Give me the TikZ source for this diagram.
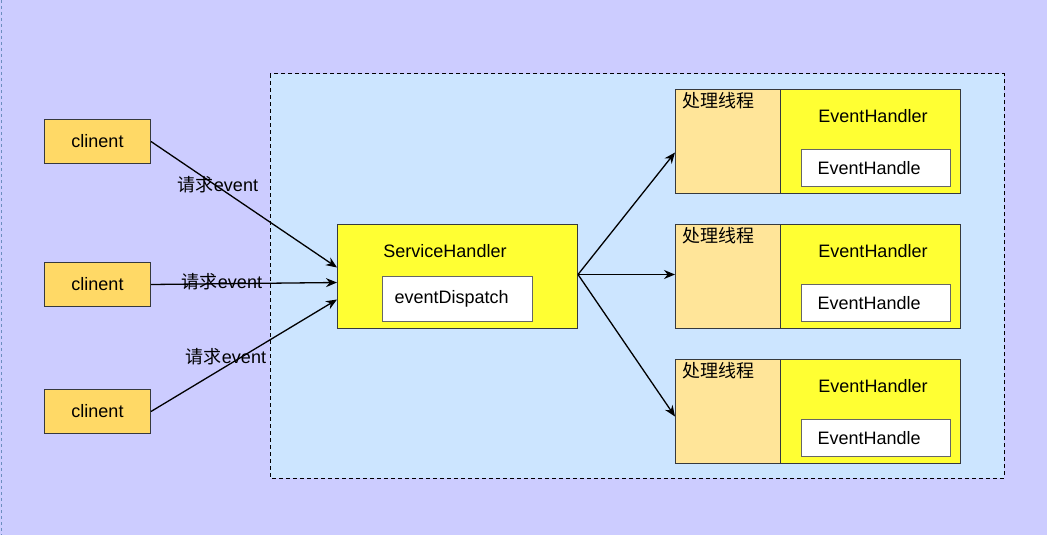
\documentclass[tikz,border=0pt]{standalone}
\usepackage{fontspec}
\setmainfont{Liberation Sans}
\newfontfamily\cjk{Noto Sans CJK SC}
\usetikzlibrary{arrows.meta}
\definecolor{bgpurple}{HTML}{CCCCFF}
\definecolor{bgblue}{HTML}{CCE5FF}
\definecolor{clientfill}{HTML}{FFD966}
\definecolor{handlerfill}{HTML}{FFFF33}
\definecolor{threadfill}{HTML}{FFE599}
\definecolor{boxline}{HTML}{36393D}
\definecolor{edgeblue}{HTML}{6C8EBF}
\tikzset{
  box/.style={draw=boxline, line width=1pt, anchor=north west, inner sep=0pt},
  clientbox/.style={box, fill=clientfill, minimum width=106pt, minimum height=44pt},
  whitebox/.style={box, draw=gray!80!black, fill=white, align=left},
  txt/.style={font=\fontsize{18}{21}\selectfont, inner sep=0pt},
  arrow/.style={-{Stealth[length=11pt,width=9pt]}, line width=1.3pt}
}
\begin{document}
\begin{tikzpicture}[x=1pt, y=-1pt]
  \useasboundingbox (0,0) rectangle (1047,535);
  \fill [bgpurple] (0,0) rectangle (1047,535);
  \draw [edgeblue, dashed, line width=1pt] (1,0) -- (1,535);
  \draw [fill=bgblue, line width=1pt, dash pattern=on 4pt off 3pt] (270,74) rectangle (1004,478);
  % clients
  \node [clientbox, txt] (client1) at (44,119) {clinent};
  \node [clientbox, txt] (client2) at (44,262) {clinent};
  \node [clientbox, txt] (client3) at (44,389) {clinent};
  % service handler
  \node [box, fill=handlerfill, minimum width=240pt, minimum height=104pt] (service) at (337,224) {};
  \node [txt] (servicetext) at (445,251) {ServiceHandler};
  \node [whitebox, txt, inner xsep=12pt, text width=126pt, minimum height=45pt] (dispatch) at (382,276) {eventDispatch};
  % threads with handlers
  \foreach \i/\y in {1/89, 2/224, 3/359} {
    \node [box, fill=threadfill, minimum width=105pt, minimum height=104pt] (thread\i) at (675,\y) {};
    \node [box, fill=handlerfill, minimum width=180pt, minimum height=104pt] (handler\i) at (780,\y) {};
    \node [txt, anchor=north west] (threadtext\i) at (682,\y+3) {\cjk 处理线程};
    \node [txt] (handlertext\i) at (873,\y+27) {EventHandler};
    \node [whitebox, txt, inner xsep=16pt, text width=117pt, minimum height=37pt] (handle\i) at (801,\y+60) {EventHandle};
  }
  % requests
  \draw [arrow] (client1.east) -- ([yshift=9pt]service.west);
  \draw [arrow] (client2.east) -- ([yshift=-6pt]service.west);
  \draw [arrow] (client3.east) -- ([yshift=-23pt]service.west);
  \node [txt] (req1) at (218,185) {{\cjk 请求}event};
  \node [txt] (req2) at (222,282) {{\cjk 请求}event};
  \node [txt] (req3) at (226,357) {{\cjk 请求}event};
  % dispatch
  \draw [arrow] ([yshift=2pt]service.east) -- ([yshift=-11pt]thread1.west);
  \draw [arrow] ([yshift=2pt]service.east) -- ([yshift=2pt]thread2.west);
  \draw [arrow] ([yshift=2pt]service.east) -- ([yshift=-5pt]thread3.west);
\end{tikzpicture}
\end{document}
